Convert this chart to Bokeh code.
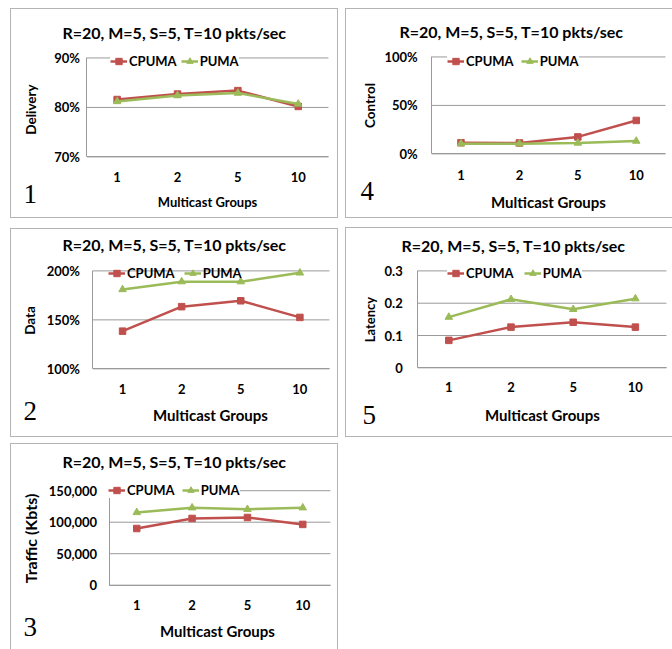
import math
from bokeh.plotting import figure
from bokeh.models import (Range1d, FixedTicker, Label, PrintfTickFormatter,
                          NumeralTickFormatter, CustomJSTickFormatter)
from bokeh.layouts import column, row
from bokeh.embed import file_html
from bokeh.resources import INLINE

# ---------------- data ----------------
groups = ["1", "2", "5", "10"]
chart_title = "R=20, M=5, S=5, T=10 pkts/sec"
series_names = ["CPUMA", "PUMA"]
x_label = "Multicast Groups"

delivery_cpuma = [81.6, 82.7, 83.4, 80.2]
delivery_puma = [81.2, 82.4, 82.9, 80.7]
delivery_ticks = [70, 80, 90]

control_cpuma = [11.5, 11.3, 17.5, 34.5]
control_puma = [10.5, 10.5, 11.2, 13.2]
control_ticks = [0, 50, 100]

data_cpuma = [138.5, 163.5, 169.5, 152.5]
data_puma = [181, 189, 189, 198]
data_ticks = [100, 150, 200]

latency_cpuma = [0.085, 0.126, 0.141, 0.126]
latency_puma = [0.157, 0.212, 0.181, 0.214]
latency_ticks = [0, 0.1, 0.2, 0.3]

traffic_cpuma = [90000, 106000, 107500, 96500]
traffic_puma = [115500, 123000, 120500, 123000]
traffic_ticks = [0, 50000, 100000, 150000]

# ---------------- style ----------------
RED = "#C0504D"
GREEN = "#9BBB59"
GRID = "#9a9a9a"
BORDER = "#b4b4b4"
FONT = "Lato"
SERIF = "Liberation Serif"
TXT_SHIFT = 3  # px: visual correction for middle-aligned labels

idx = list(range(len(groups)))
group_fmt = CustomJSTickFormatter(args=dict(labels=groups),
                                  code="const i = Math.round(tick); return labels[i] || '';")


def make_panel(num, ylabel, cpuma, puma, ticks, formatter, g):
    ox, oy, ow, oh = g["box"]
    sides = g["sides"]
    cx0 = ox + (1 if "left" in sides else 0)
    cy0 = oy + (1 if "top" in sides else 0)
    cw = ow - (1 if "left" in sides else 0) - (1 if "right" in sides else 0)
    ch = oh - (1 if "top" in sides else 0) - (1 if "bottom" in sides else 0)

    # plot area (canvas px)
    pl, pr, pt, pb = g["pa"]
    pl -= cx0; pr -= cx0; pt -= cy0; pb -= cy0
    n = len(groups)
    ux = (pr - pl) / n
    x_lo = -0.5 - pl / ux
    x_hi = n - 0.5 + (cw - pr) / ux
    ymin, ymax = ticks[0], ticks[-1]
    uy = (pb - pt) / (ymax - ymin)
    y_lo = ymin - (ch - pb) / uy
    y_hi = ymax + pt / uy

    def sx(ax):
        return ax - cx0

    def sy(ay):
        return (cy0 + ch) - ay

    p = figure(width=ow, height=oh, x_range=Range1d(x_lo, x_hi),
               y_range=Range1d(y_lo, y_hi), output_backend="svg",
               toolbar_location=None, min_border=0,
               min_border_left=0, min_border_right=0,
               min_border_top=0, min_border_bottom=0)
    p.outline_line_color = None
    p.background_fill_color = "white"
    p.border_fill_color = "white"
    p.xgrid.visible = False
    p.ygrid.visible = False

    # horizontal gridlines at the value ticks
    p.segment(x0=[-0.5] * len(ticks), y0=ticks, x1=[n - 0.5] * len(ticks), y1=ticks,
              line_color=GRID, line_width=1)

    # series
    p.line(idx, cpuma, line_color=RED, line_width=2.5, legend_label=series_names[0])
    p.scatter(idx, cpuma, marker="square", size=6.5, fill_color=RED,
              line_color=RED, legend_label=series_names[0])
    p.line(idx, puma, line_color=GREEN, line_width=2.5, legend_label=series_names[1])
    p.scatter(idx, puma, marker="triangle", size=7.5, fill_color=GREEN,
              line_color=GREEN, legend_label=series_names[1])

    # x axis (category axis) at the bottom of the plot area
    xa = p.xaxis[0]
    xa.fixed_location = ymin
    xa.bounds = (-0.5, n - 0.5)
    xa.ticker = FixedTicker(ticks=idx)
    xa.formatter = group_fmt
    xa.major_label_text_font = FONT
    xa.major_label_text_font_style = "bold"
    xa.major_label_text_font_size = "13px"
    xa.major_label_text_color = "black"
    xa.major_label_standoff = g["xts"]
    xa.major_tick_line_color = None
    xa.minor_tick_line_color = None
    xa.major_tick_out = 0
    xa.major_tick_in = 0
    xa.axis_line_color = GRID

    # y axis (value axis) at the left of the plot area
    ya = p.yaxis[0]
    ya.fixed_location = -0.5
    ya.bounds = (ymin, ymax)
    ya.ticker = FixedTicker(ticks=ticks)
    ya.formatter = formatter
    ya.major_label_text_font = FONT
    ya.major_label_text_font_style = "bold"
    ya.major_label_text_font_size = "13px"
    ya.major_label_text_color = "black"
    ya.major_label_standoff = g["yts"]
    ya.major_tick_line_color = None
    ya.minor_tick_line_color = None
    ya.major_tick_out = 0
    ya.major_tick_in = 0
    ya.axis_line_color = GRID

    # legend
    lg = p.legend[0]
    lg.orientation = "horizontal"
    lx, lyc = g["leg"]
    lg.location = (sx(lx), sy(lyc - 2 + 8))
    lg.padding = 0
    lg.margin = 0
    lg.spacing = g["lsp"]
    lg.glyph_width = 17
    lg.glyph_height = 16
    lg.label_height = 16
    lg.label_standoff = 2
    lg.label_text_font = FONT
    lg.label_text_font_style = "bold"
    lg.label_text_font_size = "13px"
    lg.label_text_color = "black"
    lg.background_fill_color = "white"
    lg.background_fill_alpha = g["lbg"]
    lg.border_line_color = None

    # texts
    tx, ty = g["title"]
    p.add_layout(Label(x=sx(tx), y=sy(ty - TXT_SHIFT), x_units="screen", y_units="screen",
                       text=chart_title, text_font=FONT, text_font_style="bold",
                       text_font_size="16px", text_color="black",
                       text_align="center", text_baseline="middle"))
    yx, yy = g["ylab"]
    p.add_layout(Label(x=sx(yx - TXT_SHIFT), y=sy(yy), x_units="screen", y_units="screen",
                       text=ylabel, text_font=FONT, text_font_style="bold",
                       text_font_size=g["yls"], text_color="black", angle=math.pi / 2,
                       text_align="center", text_baseline="middle"))
    xx, xy = g["xlab"]
    p.add_layout(Label(x=sx(xx), y=sy(xy - TXT_SHIFT), x_units="screen", y_units="screen",
                       text=x_label, text_font=FONT, text_font_style="bold",
                       text_font_size=g["xls"], text_color="black",
                       text_align="center", text_baseline="middle"))
    nx, ny = g["num"]
    p.add_layout(Label(x=sx(nx), y=sy(ny - TXT_SHIFT), x_units="screen", y_units="screen",
                       text=num, text_font=SERIF, text_font_size="27px",
                       text_color="black", text_align="left",
                       text_baseline="middle"))

    st = {"background-color": "white"}
    for side in sides:
        st["border-" + side] = "1px solid " + BORDER
    p.styles = st
    p.margin = g["margin"]
    return p


pct = PrintfTickFormatter(format="%d%%")
lat_fmt = CustomJSTickFormatter(code="return String(Math.round(tick * 10) / 10);")

# geometry in page pixels (layout only)
g1 = dict(box=(10, 8, 328, 210), sides=["left", "right", "top", "bottom"],
          pa=(86, 326, 57, 155), title=(174, 33), ylab=(33, 107), xlab=(207, 202),
          num=(23, 194), leg=(110, 61), lsp=4, lbg=1.0, xts=15, yts=7,
          xls="13px", yls="13.5px", margin=(8, 0, 0, 10))
g4 = dict(box=(345, 8, 327, 210), sides=["left", "top", "bottom"],
          pa=(431, 664, 56, 152), title=(511, 32), ylab=(372, 103), xlab=(548, 202),
          num=(360, 191.5), leg=(447, 61), lsp=7, lbg=1.0, xts=16, yts=14,
          xls="15px", yls="13.5px", margin=(8, 0, 0, 7))
g2 = dict(box=(10, 228, 328, 209), sides=["left", "right", "top", "bottom"],
          pa=(92, 327, 270, 367), title=(174, 245), ylab=(32, 318), xlab=(210, 415),
          num=(23, 411.5), leg=(108, 273), lsp=9, lbg=0.0, xts=15, yts=13,
          xls="15px", yls="13.5px", margin=(10, 0, 0, 10))
g5 = dict(box=(345, 227, 327, 210), sides=["left", "top", "bottom"],
          pa=(417, 665, 270, 366), title=(513, 246), ylab=(372, 317), xlab=(542, 415),
          num=(362, 415), leg=(447, 273), lsp=10, lbg=1.0, xts=14, yts=15,
          xls="15px", yls="13px", margin=(9, 0, 0, 7))
g3 = dict(box=(10, 443, 328, 206), sides=["left", "right", "top"],
          pa=(108, 328, 490, 584), title=(174, 463), ylab=(33, 537), xlab=(217, 632),
          num=(23, 628.5), leg=(108, 491), lsp=7, lbg=1.0, xts=15, yts=12,
          xls="15px", yls="16px", margin=(6, 0, 0, 10))

p1 = make_panel("1", "Delivery", delivery_cpuma, delivery_puma, delivery_ticks, pct, g1)
p4 = make_panel("4", "Control", control_cpuma, control_puma, control_ticks, pct, g4)
p2 = make_panel("2", "Data", data_cpuma, data_puma, data_ticks, pct, g2)
p5 = make_panel("5", "Latency", latency_cpuma, latency_puma, latency_ticks, lat_fmt, g5)
p3 = make_panel("3", "Traffic (Kbts)", traffic_cpuma, traffic_puma, traffic_ticks,
                NumeralTickFormatter(format="0,0"), g3)

layout = column(row(p1, p4), row(p2, p5), p3)

open("out.html", "w").write(file_html(layout, INLINE))
